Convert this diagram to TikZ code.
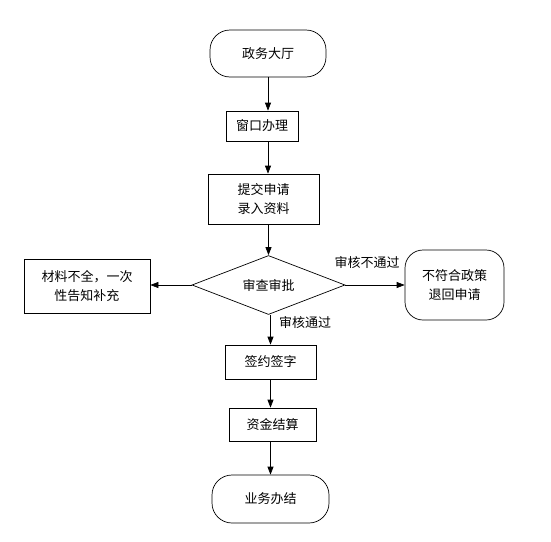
\documentclass[tikz,border=0pt]{standalone}
\usepackage{fontspec}
\setmainfont{Noto Sans CJK SC}
\usetikzlibrary{arrows.meta, positioning, shapes.geometric, calc}
\tikzset{
  box/.style={draw=black, rectangle, align=center, inner sep=1pt, font=\fontsize{13}{19}\selectfont, line width=0.7pt, fill=white},
  termbox/.style={box, rounded corners=20pt},
  check/.style={box, diamond, aspect=2.6, minimum width=153pt, minimum height=59pt},
  lbl/.style={font=\fontsize{13}{16}\selectfont, inner sep=0pt},
  arrow/.style={-{Triangle[length=8pt, width=6pt]}, line width=0.7pt, draw=black}
}

\begin{document}
\begin{tikzpicture}[x=1pt, y=-1pt]
\useasboundingbox (0,0) rectangle (551,541);

\node[termbox, minimum width=116pt, minimum height=47pt] (start) at (268,53.5) {政务大厅};
\node[box, minimum width=72pt, minimum height=30pt] (window) at (262,126) {窗口办理};
\node[box, minimum width=111pt, minimum height=50pt] (submit) at (263.5,199) {提交申请\\录入资料};
\node[check] (review) at (268.5,285) {审查审批};
\node[box, minimum width=126pt, minimum height=54pt] (supply) at (87,286) {材料不全，一次\\性告知补充};
\node[box, rounded corners=18pt, minimum width=99pt, minimum height=70pt] (reject) at (454.5,285) {不符合政策\\退回申请};
\node[box, minimum width=91pt, minimum height=34pt] (sign) at (270.5,362) {签约签字};
\node[box, minimum width=87pt, minimum height=33pt] (fund) at (272.5,424.5) {资金结算};
\node[termbox, minimum width=117pt, minimum height=48pt] (done) at (270.5,499) {业务办结};

\draw[arrow] (start.south) -- (start.south |- window.north);
\draw[arrow] (window.south -| start) -- (submit.north -| start);
\draw[arrow] (submit.south -| review) -- (review.north);
\draw[arrow] (review.west) -- (supply.east |- review.west);
\draw[arrow] (review.east) -- (reject.west);
\draw[arrow] (review.south -| sign) -- (sign.north);
\draw[arrow] (sign.south) -- (sign.south |- fund.north);
\draw[arrow] (fund.south -| sign) -- (done.north -| sign);

\node[lbl] (nopass) at (367,263) {审核不通过};
\node[lbl] (pass) at (305,323) {审核通过};

\end{tikzpicture}
\end{document}
